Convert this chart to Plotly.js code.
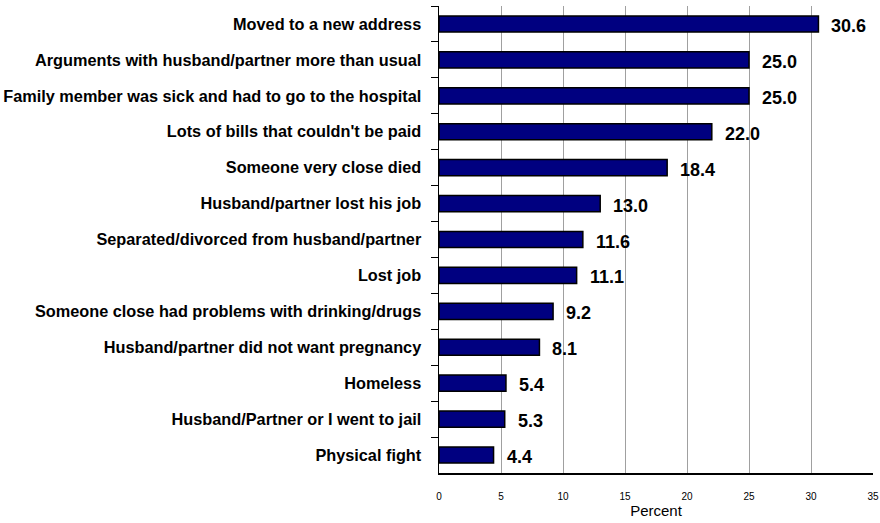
<!DOCTYPE html>
<html>
<head>
<meta charset="utf-8">
<script src="https://cdn.plot.ly/plotly-3.0.1.min.js"></script>
<style>html,body{margin:0;padding:0;background:#fff;}#chart{width:880px;height:523px;}</style>
</head>
<body>
<div id="chart"></div>
<script>
const categories = [
  "Moved to a new address",
  "Arguments with husband/partner more than usual",
  "Family member was sick and had to go to the hospital",
  "Lots of bills that couldn't be paid",
  "Someone very close died",
  "Husband/partner lost his job",
  "Separated/divorced from husband/partner",
  "Lost job",
  "Someone close had problems with drinking/drugs",
  "Husband/partner did not want pregnancy",
  "Homeless",
  "Husband/Partner or I went to jail",
  "Physical fight"
];
const values = [30.6, 25.0, 25.0, 22.0, 18.4, 13.0, 11.6, 11.1, 9.2, 8.1, 5.4, 5.3, 4.4];
const xTicks = [0, 5, 10, 15, 20, 25, 30, 35];

const FONT = "Liberation Sans, Arial, Helvetica, sans-serif";

const trace = {
  type: "bar",
  orientation: "h",
  x: values,
  y: categories,
  width: 0.45,
  marker: {color: "#000080", line: {color: "#000000", width: 1.5}},
  hoverinfo: "none"
};

const annotations = values.map((v, i) => ({
  x: v, y: categories[i], xref: "x", yref: "y",
  text: v.toFixed(1), showarrow: false,
  xanchor: "left", yanchor: "middle", xshift: 11, yshift: -2,
  font: {family: FONT, size: 18, color: "#000", weight: "bold"}
}));

const layout = {
  width: 880, height: 523,
  margin: {l: 439, r: 7, t: 6, b: 50},
  paper_bgcolor: "#fff", plot_bgcolor: "#fff",
  showlegend: false,
  font: {family: FONT, color: "#000"},
  xaxis: {
    range: [0, 35], tickvals: xTicks, ticktext: xTicks.map(String),
    showgrid: true, gridcolor: "#a0a0a0", gridwidth: 1,
    showline: true, linecolor: "#000", linewidth: 1.5,
    ticks: "", ticklabelstandoff: 13,
    tickfont: {family: FONT, size: 10, color: "#000"},
    zeroline: false,
    title: {text: "Percent", font: {family: FONT, size: 15, color: "#000"}, standoff: 4}
  },
  yaxis: {
    autorange: "reversed", type: "category",
    showline: true, linecolor: "#000", linewidth: 1.5,
    ticks: "outside", ticklen: 7, tickcolor: "#000", tickwidth: 1,
    tickson: "boundaries", showgrid: false,
    ticklabelstandoff: 13,
    tickfont: {family: FONT, size: 16.3, color: "#000", weight: "bold"}
  },
  annotations: annotations
};

Plotly.newPlot("chart", [trace], layout, {displayModeBar: false, staticPlot: true});
</script>
</body>
</html>
